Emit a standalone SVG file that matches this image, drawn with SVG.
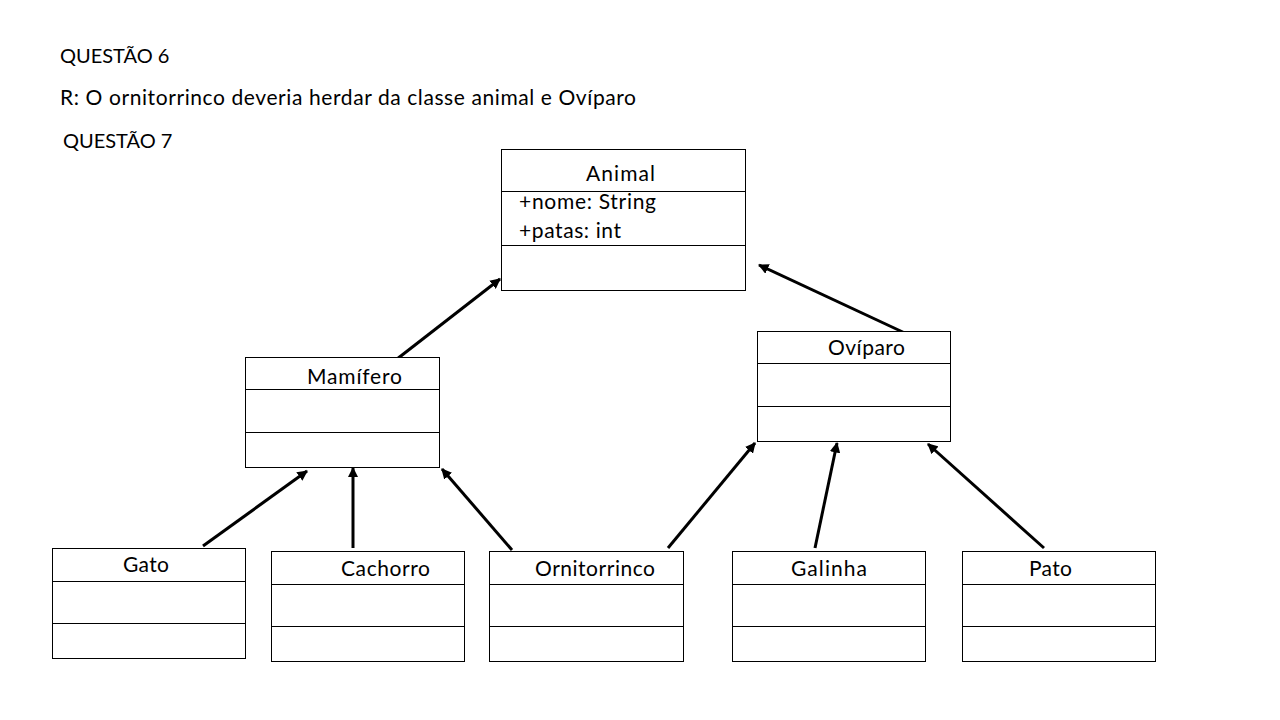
<svg xmlns="http://www.w3.org/2000/svg" width="1280" height="720" viewBox="0 0 1280 720">
<style>
text{font-family:Lato,"Open Sans","Liberation Sans",sans-serif;font-size:21px;fill:#000}
.h{font-size:20px}
.box{fill:#fff;stroke:#000;stroke-width:1}
.div{stroke:#000;stroke-width:1}
.arr{stroke:#000;stroke-width:3;fill:none;marker-end:url(#ah)}
</style>
<defs>
<marker id="ah" viewBox="0 0 10 10" refX="9" refY="5" markerWidth="3.5" markerHeight="3.5" orient="auto" markerUnits="strokeWidth">
<path d="M0,0 L10,5 L0,10 z" fill="#000"/>
</marker>
</defs>
<rect width="1280" height="720" fill="#fff"/>
<g id="header">
<text class="h" x="60" y="63">QUESTÃO 6</text>
<text x="60" y="105" textLength="576">R: O ornitorrinco deveria herdar da classe animal e Ovíparo</text>
<text class="h" x="63" y="148">QUESTÃO 7</text>
</g>
<g id="connectors">
<line class="arr" x1="397" y1="359" x2="500" y2="279"/>
<line class="arr" x1="907" y1="334" x2="759" y2="265"/>
<line class="arr" x1="203" y1="546" x2="307" y2="471"/>
<line class="arr" x1="353" y1="548" x2="353" y2="468"/>
<line class="arr" x1="512" y1="550" x2="442" y2="469"/>
<line class="arr" x1="668" y1="548" x2="755" y2="443"/>
<line class="arr" x1="815" y1="548" x2="837" y2="443"/>
<line class="arr" x1="1044" y1="548" x2="928" y2="444"/>
</g>
<g id="animal">
<rect class="box" x="501.5" y="149.5" width="244" height="141"/>
<line class="div" x1="501.5" y1="191.5" x2="745.5" y2="191.5"/>
<line class="div" x1="501.5" y1="245.5" x2="745.5" y2="245.5"/>
<text x="586" y="181" textLength="69">Animal</text>
<text x="519" y="209" textLength="137">+nome: String</text>
<text x="519" y="238" textLength="102">+patas: int</text>
</g>
<g id="mamifero">
<rect class="box" x="245.5" y="357.5" width="194" height="110"/>
<line class="div" x1="245.5" y1="389.5" x2="439.5" y2="389.5"/>
<line class="div" x1="245.5" y1="432.5" x2="439.5" y2="432.5"/>
<text x="307" y="384" textLength="95">Mamífero</text>
</g>
<g id="oviparo">
<rect class="box" x="757.5" y="331.5" width="193" height="110"/>
<line class="div" x1="757.5" y1="363.5" x2="950.5" y2="363.5"/>
<line class="div" x1="757.5" y1="406.5" x2="950.5" y2="406.5"/>
<text x="828" y="355" textLength="77">Ovíparo</text>
</g>
<g id="gato">
<rect class="box" x="52.5" y="548.5" width="193" height="110"/>
<line class="div" x1="52.5" y1="581.5" x2="245.5" y2="581.5"/>
<line class="div" x1="52.5" y1="623.5" x2="245.5" y2="623.5"/>
<text x="123" y="572" textLength="46">Gato</text>
</g>
<g id="cachorro">
<rect class="box" x="271.5" y="551.5" width="193" height="110"/>
<line class="div" x1="271.5" y1="584.5" x2="464.5" y2="584.5"/>
<line class="div" x1="271.5" y1="626.5" x2="464.5" y2="626.5"/>
<text x="341" y="576" textLength="89">Cachorro</text>
</g>
<g id="ornitorrinco">
<rect class="box" x="489.5" y="551.5" width="194" height="110"/>
<line class="div" x1="489.5" y1="584.5" x2="683.5" y2="584.5"/>
<line class="div" x1="489.5" y1="626.5" x2="683.5" y2="626.5"/>
<text x="535" y="576" textLength="120">Ornitorrinco</text>
</g>
<g id="galinha">
<rect class="box" x="732.5" y="551.5" width="193" height="110"/>
<line class="div" x1="732.5" y1="584.5" x2="925.5" y2="584.5"/>
<line class="div" x1="732.5" y1="626.5" x2="925.5" y2="626.5"/>
<text x="791" y="576" textLength="76">Galinha</text>
</g>
<g id="pato">
<rect class="box" x="962.5" y="551.5" width="193" height="110"/>
<line class="div" x1="962.5" y1="584.5" x2="1155.5" y2="584.5"/>
<line class="div" x1="962.5" y1="626.5" x2="1155.5" y2="626.5"/>
<text x="1029" y="576" textLength="43">Pato</text>
</g>
</svg>
